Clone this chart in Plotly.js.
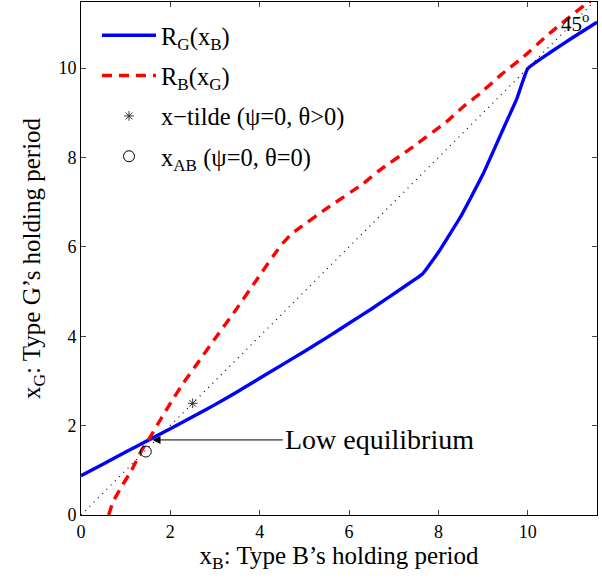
<!DOCTYPE html>
<html>
<head>
<meta charset="utf-8">
<script src="https://cdn.plot.ly/plotly-3.0.1.min.js"></script>
<style>html,body{margin:0;padding:0;background:#fff;}#chart{width:602px;height:579px;}</style>
</head>
<body>
<div id="chart"></div>
<script>
// R_G(x_B) : blue solid
var rgX = [0, 0.5, 1, 1.5, 2, 2.5, 3, 3.5, 4, 4.5, 5, 5.5, 6, 6.5, 7, 7.5, 7.65, 7.8, 8, 8.5, 9, 9.5, 9.75, 10, 10.5, 11, 11.55];
var rgY = [0.88, 1.14, 1.41, 1.67, 1.93, 2.2, 2.47, 2.76, 3.06, 3.36, 3.66, 3.97, 4.29, 4.61, 4.95, 5.29, 5.4, 5.6, 5.88, 6.68, 7.63, 8.75, 9.3, 9.99, 10.35, 10.68, 11.03];
// R_B(x_G) : red dashed
var rbX = [0.62, 0.72, 0.9, 1.13, 1.36, 1.51, 1.77, 2.0, 2.29, 2.66, 3.0, 3.41, 3.93, 4.45, 4.7, 4.83, 5.5, 6.32, 6.69, 7.43, 8.18, 8.55, 8.93, 9.4, 9.9, 10.49, 11.27, 11.4];
var rbY = [0, 0.3, 0.62, 1.0, 1.45, 1.68, 2.12, 2.5, 2.95, 3.47, 3.95, 4.51, 5.26, 6.0, 6.28, 6.38, 6.86, 7.42, 7.72, 8.24, 8.8, 9.13, 9.43, 9.85, 10.25, 10.78, 11.41, 11.5];
// 45 degree line
var diagX = [0, 11.5];
var diagY = [0, 11.5];
// special points
var tildeX = [2.5], tildeY = [2.5];
var abX = [1.45], abY = [1.42];
var eqX = 1.6, eqY = 1.68;

var serif = "Liberation Serif, Times New Roman, serif";

var traces = [
  {x: rgX, y: rgY, type: 'scatter', mode: 'lines', name: 'R<sub>G</sub>(x<sub>B</sub>)', legendgroup: 'a',
   line: {color: '#0000ff', width: 3.4, shape: 'spline', smoothing: 0.3}},
  {x: rbX, y: rbY, type: 'scatter', mode: 'lines', name: 'R<sub>B</sub>(x<sub>G</sub>)', legendgroup: 'b',
   line: {color: '#ff0000', width: 3.4, dash: '10px,7px', shape: 'spline', smoothing: 0.5}},
  {x: tildeX, y: tildeY, type: 'scatter', mode: 'markers', name: 'x\u2212tilde (\u03c8=0, \u03b8>0)', legendgroup: 'c',
   marker: {symbol: 'asterisk-open', size: 8, color: '#333', line: {color: '#333', width: 1}}},
  {x: abX, y: abY, type: 'scatter', mode: 'markers', name: 'x<sub>AB</sub> (\u03c8=0, \u03b8=0)', legendgroup: 'd',
   marker: {symbol: 'circle-open', size: 11, color: '#000', line: {color: '#000', width: 1}}},
  {x: diagX, y: diagY, type: 'scatter', mode: 'lines', showlegend: false,
   line: {color: '#000', width: 1.2, dash: '1px,5px'}}
];

var layout = {
  width: 602, height: 579,
  margin: {l: 81, r: 5, t: 2, b: 64},
  paper_bgcolor: '#fff', plot_bgcolor: '#fff',
  font: {family: serif, size: 18, color: '#000'},
  showlegend: true,
  legend: {x: 0.031, y: 0.979, xanchor: 'left', yanchor: 'top', bgcolor: 'rgba(0,0,0,0)',
           itemwidth: 54, font: {family: serif, size: 24.5, color: '#000'}, tracegroupgap: 5.5},
  xaxis: {range: [0, 11.55], tickvals: [0, 2, 4, 6, 8, 10], ticks: 'inside', ticklen: 5,
          mirror: 'ticks', showline: true, linecolor: '#000', linewidth: 1, showgrid: false, zeroline: false,
          tickfont: {family: serif, size: 18},
          title: {text: 'x<sub>B</sub>: Type B\u2019s holding period', font: {family: serif, size: 25}, standoff: 4}},
  yaxis: {range: [0, 11.48], tickvals: [0, 2, 4, 6, 8, 10], ticks: 'inside', ticklen: 5,
          mirror: 'ticks', showline: true, linecolor: '#000', linewidth: 1, showgrid: false, zeroline: false,
          tickfont: {family: serif, size: 18},
          title: {text: 'x<sub>G</sub>: Type G\u2019s holding period', font: {family: serif, size: 25}, standoff: 10}},
  annotations: [
    {x: eqX, y: eqY, xref: 'x', yref: 'y', ax: 4.52, ay: eqY, axref: 'x', ayref: 'y',
     text: 'Low equilibrium', showarrow: true, arrowhead: 2, arrowsize: 1.6, arrowwidth: 1, arrowcolor: '#000',
     xanchor: 'left', font: {family: serif, size: 28, color: '#000'}},
    {x: 11.05, y: 11.03, xref: 'x', yref: 'y', text: '45<sup>o</sup>', showarrow: false,
     font: {family: serif, size: 21, color: '#000'}}
  ]
};

Plotly.newPlot('chart', traces, layout, {displayModeBar: false, staticPlot: true});
</script>
</body>
</html>
